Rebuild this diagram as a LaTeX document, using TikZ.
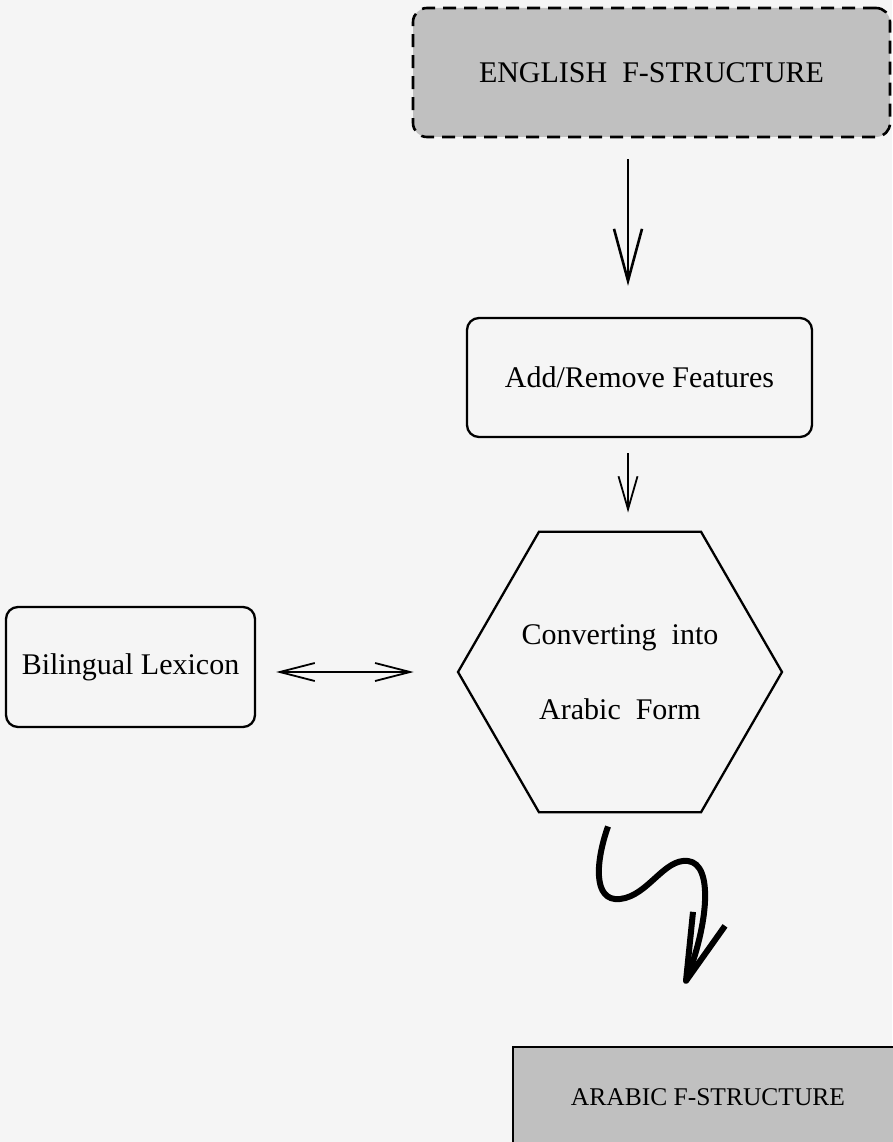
\documentclass[tikz,border=0pt]{standalone}
\usepackage{fontspec}
\setmainfont{Liberation Serif}
\usetikzlibrary{arrows.meta,shapes.geometric}
\definecolor{paper}{RGB}{245,245,245}
\definecolor{shade}{RGB}{192,192,192}
\begin{document}
\begin{tikzpicture}[x=1pt,y=-1pt,
  every node/.style={font=\fontsize{30}{36}\selectfont, inner sep=0pt},
  roundbox/.style={draw, line width=2.3pt, rounded corners=12pt},
  flowarrow/.style={line width=2.6pt,
    -{Straight Barb[length=52pt,width=28pt,line width=2.6pt]}},
  thinarrow/.style={line width=1.8pt,
    -{Straight Barb[length=33pt,width=19pt,line width=1.8pt]}},
  twoway/.style={line width=1.8pt,
    {Straight Barb[length=35pt,width=18pt,line width=1.8pt]}-{Straight Barb[length=35pt,width=18pt,line width=1.8pt]}},
  squiggle/.style={line width=6pt, line join=round}]

% page
\fill[paper] (0,0) rectangle (892,1142);
\useasboundingbox (0,0) rectangle (892,1142);

% boxes
\node[draw, dash pattern=on 13pt off 8pt, line width=2.6pt, rounded corners=14pt,
      fill=shade, minimum width=477pt, minimum height=129pt]
      (eng) at (651.5,72.5) {ENGLISH\ \ F-STRUCTURE};
\node[roundbox, minimum width=345pt, minimum height=119pt]
      (feat) at (639.5,377.5) {Add/Remove Features};
\node[draw, line width=2.3pt, regular polygon, regular polygon sides=6,
      minimum size=324pt, align=center, font=\fontsize{30}{75}\selectfont]
      (conv) at (620,672) {Converting\ \ into\\Arabic\ \ Form};
\node[roundbox, minimum width=249pt, minimum height=120pt]
      (lex) at (130.5,667) {Bilingual Lexicon};
\node[draw, line width=2.3pt, fill=shade, minimum width=390pt, minimum height=100pt,
      font=\fontsize{25.5}{30}\selectfont]
      (arab) at (708,1097) {ARABIC F-STRUCTURE};

% straight connectors
\draw[flowarrow] ([xshift=-23.5pt,yshift=-21pt]eng.south) -- ([xshift=-11.5pt,yshift=31pt]feat.north);
\draw[thinarrow] ([xshift=-11.5pt,yshift=-15pt]feat.south) -- ([xshift=8pt,yshift=18pt]conv.north);
\draw[twoway] ([xshift=20pt,yshift=-5pt]lex.east) -- ([xshift=-43pt]conv.west);

% wavy connector towards the Arabic f-structure
\coordinate (sqa) at ([xshift=-12pt,yshift=-13pt]conv.south);
\coordinate (sqb) at ([xshift=-22pt,yshift=65pt]arab.north);
\draw[squiggle] (sqa) .. controls (596,860) and (592,902) .. (620,899)
  .. controls (648,896) and (664,858) .. (688,861)
  .. controls (714,864) and (708,925) .. (sqb);
\draw[squiggle] (sqb) ++(7,-69) -- (sqb) -- ++(39,-55);
\end{tikzpicture}
\end{document}
